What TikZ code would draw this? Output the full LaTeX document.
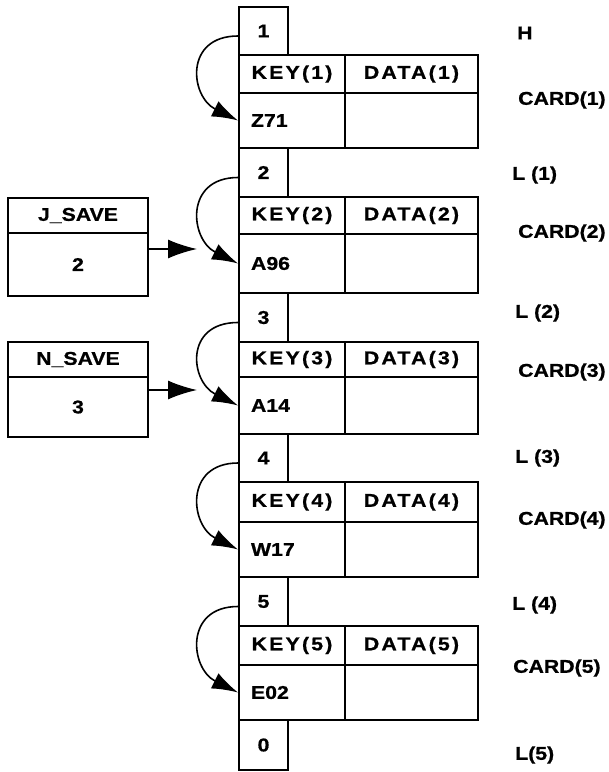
\documentclass[tikz,border=0pt]{standalone}
\usepackage{fontspec}
\setmainfont{Liberation Sans}[FakeStretch=1.15, FakeBold=0.8]
\newfontfamily\cellfont{Liberation Sans}[FakeStretch=1.15, FakeBold=0.8, LetterSpace=12]
\usetikzlibrary{arrows.meta}
\begin{document}
\begin{tikzpicture}[x=1pt,y=1pt,
  every node/.style={font=\bfseries\fontsize{18.5}{20}\selectfont},
  box/.style={draw, line width=2pt, rectangle, inner sep=0pt},
  cell/.style={box, font=\cellfont\bfseries\fontsize{18.5}{20}\selectfont},
  arc/.style={line width=1.6pt, -{Latex[length=26pt,width=17pt]}},
  ptr/.style={line width=1.6pt, -{Latex[length=29pt,width=19pt]}},
  lab/.style={anchor=west, inner sep=0pt}
]
\useasboundingbox (0,0) rectangle (609,-772);

% small link boxes
\node[box, minimum width=49pt, minimum height=48pt] (num1) at (263.5,-31) {1};
\node[box, minimum width=49pt, minimum height=49pt] (num2) at (263.5,-172.5) {2};
\node[box, minimum width=49pt, minimum height=49pt] (num3) at (263.5,-317.5) {3};
\node[box, minimum width=49pt, minimum height=48pt] (num4) at (263.5,-458) {4};
\node[box, minimum width=49pt, minimum height=49pt] (num5) at (263.5,-601.5) {5};
\node[box, minimum width=49pt, minimum height=50pt] (num0) at (263.5,-745) {0};

% cards
\foreach \i/\t/\k/\b/\low in {1/55/93/148/Z71, 2/197/234/293/A96, 3/342/377/434/A14, 4/482/522/577/W17, 5/626/665/720/E02}{
  \node[cell, minimum width=106pt, minimum height={\k-\t}] (key\i) at (292,{-(\t+\k)/2}) {KEY(\i)};
  \node[cell, minimum width=133pt, minimum height={\k-\t}] (data\i) at (411.5,{-(\t+\k)/2}) {DATA(\i)};
  \node[box, minimum width=106pt, minimum height={\b-\k}, text width=82pt, inner xsep=12pt, align=left] (low\i) at (292,{-(\k+\b)/2}) {\low};
  \node[box, minimum width=133pt, minimum height={\b-\k}] (lowd\i) at (411.5,{-(\k+\b)/2}) {};
  \draw[arc] ([yshift=-5pt]num\i.west) .. controls +(-54,0) and +(-48,24) .. (low\i.west);
}

% save boxes
\node[box, minimum width=140pt, minimum height=35pt] (jtitle) at (78,-215.5) {J\_SAVE};
\node[box, minimum width=140pt, minimum height=63pt] (jval) at (78,-264.5) {2};
\node[box, minimum width=140pt, minimum height=35pt] (ntitle) at (78,-359.5) {N\_SAVE};
\node[box, minimum width=140pt, minimum height=60pt] (nval) at (78,-407) {3};
\coordinate (jtip) at (197,-249);
\coordinate (ntip) at (197,-390);
\draw[ptr] (jval.east |- jtip) -- (jtip);
\draw[ptr] (nval.east |- ntip) -- (ntip);

% right-hand labels
\node[lab] (lH) at (517,-33) {H};
\node[lab] (lc1) at (518,-100) {CARD(1)};
\node[lab] (ll1) at (512,-175) {L (1)};
\node[lab] (lc2) at (518,-233) {CARD(2)};
\node[lab] (ll2) at (515,-313) {L (2)};
\node[lab] (lc3) at (518,-372) {CARD(3)};
\node[lab] (ll3) at (515,-458) {L (3)};
\node[lab] (lc4) at (518,-520) {CARD(4)};
\node[lab] (ll4) at (512,-605) {L (4)};
\node[lab] (lc5) at (513,-668) {CARD(5)};
\node[lab] (ll5) at (515,-755) {L(5)};
\end{tikzpicture}
\end{document}
